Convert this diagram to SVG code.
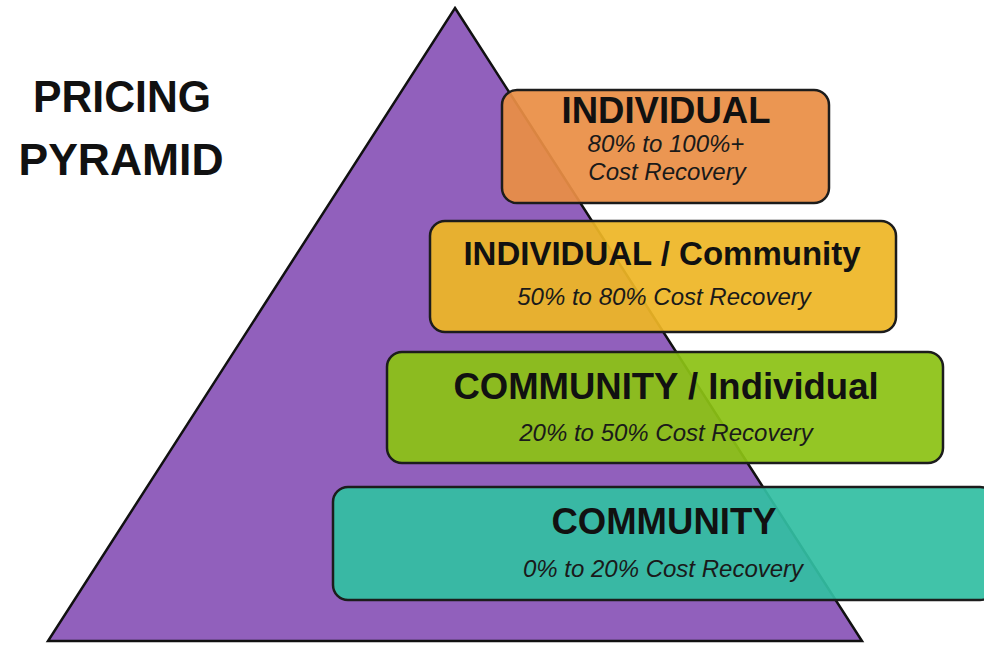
<svg xmlns="http://www.w3.org/2000/svg" width="984" height="647" viewBox="0 0 984 647">
<style>
.box{stroke:#1c1c1c;stroke-width:2.5;fill-opacity:0.93}
.hd{font-family:"Liberation Sans",Arial,sans-serif;font-weight:bold;fill:#111;text-anchor:middle}
.sub{font-family:"Liberation Sans",Arial,sans-serif;font-style:italic;fill:#1a1a1a;text-anchor:middle;font-size:24px}
.title{font-family:"Liberation Sans",Arial,sans-serif;font-weight:bold;fill:#111;text-anchor:middle;font-size:44px}
</style>
<rect width="984" height="647" fill="#ffffff"/>
<g id="title">
<text class="title" x="122" y="112" textLength="178" lengthAdjust="spacingAndGlyphs">PRICING</text>
<text class="title" x="121" y="175" textLength="205" lengthAdjust="spacingAndGlyphs">PYRAMID</text>
</g>
<g id="pyramid">
<polygon points="455,8 862,641 48,641" fill="#9160BC" stroke="#111" stroke-width="2.5" stroke-linejoin="miter"/>
</g>
<g id="tier-individual">
<rect class="box" x="502" y="90" width="327" height="113" rx="15" fill="#E98E45"/>
<text class="hd" x="666" y="123" font-size="36.5">INDIVIDUAL</text>
<text class="sub" x="666" y="152" font-size="23">80% to 100%+</text>
<text class="sub" x="667" y="180">Cost Recovery</text>
</g>
<g id="tier-individual-community">
<rect class="box" x="430" y="221" width="466" height="111" rx="15" fill="#EEB626"/>
<text class="hd" x="662" y="265" font-size="33">INDIVIDUAL / Community</text>
<text class="sub" x="664" y="305">50% to 80% Cost Recovery</text>
</g>
<g id="tier-community-individual">
<rect class="box" x="387" y="352" width="556" height="111" rx="15" fill="#8CC214"/>
<text class="hd" x="666" y="399" font-size="36.5">COMMUNITY / Individual</text>
<text class="sub" x="666" y="441">20% to 50% Cost Recovery</text>
</g>
<g id="tier-community">
<rect class="box" x="333" y="487" width="662" height="113" rx="15" fill="#33BEA2"/>
<text class="hd" x="664" y="534" font-size="36.5">COMMUNITY</text>
<text class="sub" x="663" y="577">0% to 20% Cost Recovery</text>
</g>
<g id="connectors"/>
</svg>
